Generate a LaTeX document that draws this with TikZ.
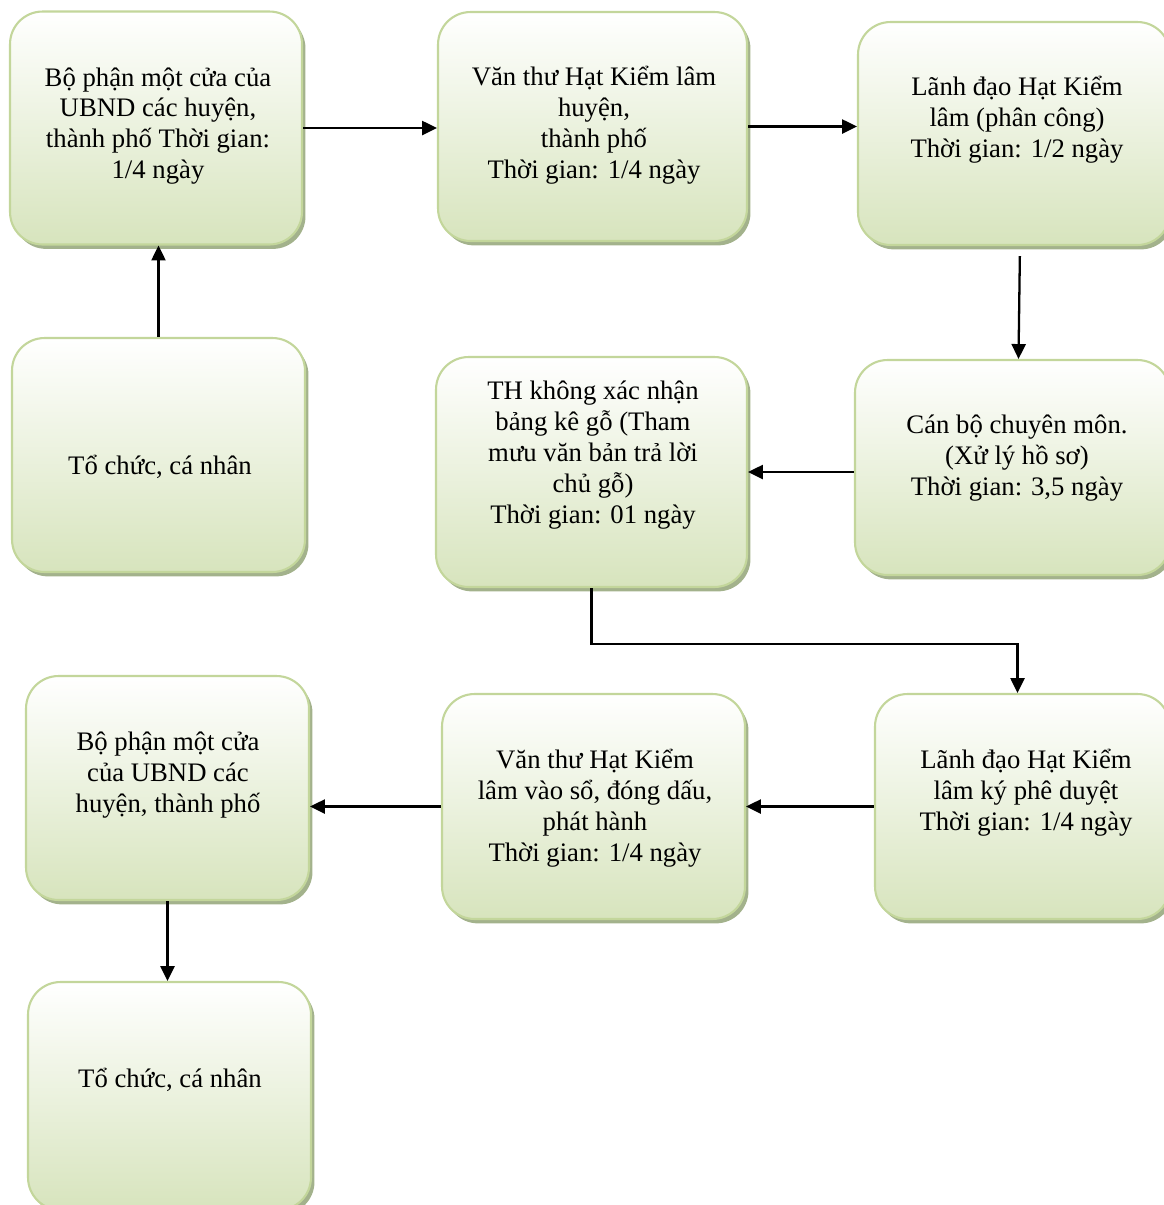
\documentclass[tikz,border=0pt]{standalone}
\usepackage{fontspec}
\setmainfont{Liberation Serif}
\usepackage{tikz}
\usetikzlibrary{arrows.meta,shadows,calc}
\definecolor{boxline}  {HTML}{C3D69B}
\definecolor{boxfill}  {HTML}{D7E4BD}
\definecolor{boxshadow}{HTML}{A3B28C}
\newcommand\boxfont{\fontsize{15.2}{17.6}\selectfont}

\begin{document}
\begin{tikzpicture}[
  box/.style ={draw=boxline,line width=1.2pt,rounded corners=0.65cm,
               top color=white,bottom color=boxfill,
               drop shadow={shadow xshift=2pt,shadow yshift=-2.5pt,
                            fill=boxshadow,opacity=1}},
  txt/.style ={align=center,font=\boxfont,inner sep=0pt},
  arr/.style ={-{Triangle[length=8.5pt,width=8pt]},line width=1.3pt},
  x=0.02cm, y=-0.02cm
]
\useasboundingbox (0,0) rectangle (1164,1205);

%% Boxes (pixel grid, y grows downwards)
\node[box,minimum width=5.84cm,minimum height=4.66cm] (b1)  at (156,128)    {};
\node[box,minimum width=6.18cm,minimum height=4.58cm] (b2)  at (592.5,126.5) {};
\node[box,minimum width=6.24cm,minimum height=4.46cm] (b3)  at (1014,133.5) {};

\node[box,minimum width=5.86cm,minimum height=4.68cm] (b4)  at (158.5,455)  {};
\node[box,minimum width=6.22cm,minimum height=4.60cm] (b5)  at (591.5,472)  {};
\node[box,minimum width=6.30cm,minimum height=4.30cm] (b6)  at (1012.5,467.5) {};

\node[box,minimum width=5.66cm,minimum height=4.48cm] (b7)  at (167.5,788)  {};
\node[box,minimum width=6.06cm,minimum height=4.50cm] (b8)  at (593.5,806.5) {};
\node[box,minimum width=5.90cm,minimum height=4.50cm] (b9)  at (1022.5,806.5) {};

\node[box,minimum width=5.66cm,minimum height=4.56cm] (b10) at (169.5,1096) {};

%% Texts
\node[txt] (t1)  at (158,126)  {Bộ phận một cửa của\\UBND các huyện,\\thành phố Thời gian:\\1/4 ngày};
\node[txt] (t2)  at (594,125)  {Văn thư Hạt Kiểm lâm\\huyện,\\thành phố\\Thời gian: 1/4 ngày};
\node[txt] (t3)  at (1017,120) {Lãnh đạo Hạt Kiểm\\lâm (phân công)\\Thời gian: 1/2 ngày};
\node[txt] (t4)  at (160,467)  {Tổ chức, cá nhân};
\node[txt] (t5)  at (593,455)  {TH không xác nhận\\bảng kê gỗ (Tham\\mưu văn bản trả lời\\chủ gỗ)\\Thời gian: 01 ngày};
\node[txt] (t6)  at (1017,458) {Cán bộ chuyên môn.\\(Xử lý hồ sơ)\\Thời gian: 3,5 ngày};
\node[txt] (t7)  at (168,775)  {Bộ phận một cửa\\của UBND các\\huyện, thành phố};
\node[txt] (t8)  at (595,808)  {Văn thư Hạt Kiểm\\lâm vào sổ, đóng dấu,\\phát hành\\Thời gian: 1/4 ngày};
\node[txt] (t9)  at (1026,793) {Lãnh đạo Hạt Kiểm\\lâm ký phê duyệt\\Thời gian: 1/4 ngày};
\node[txt] (t10) at (170,1080) {Tổ chức, cá nhân};

%% Arrows
\draw[arr] (b4.north) -- (b1.south -| b4.north);
\draw[arr] (b1.east) -- (b2.west |- b1.east);
\draw[arr] (b2.east) -- (b3.west |- b2.east);
\draw[arr,shorten <=0.2cm] ([xshift=0.12cm]b3.south) -- ([xshift=0.12cm]b6.north);
\draw[arr] (b6.west |- b5.east) -- (b5.east);
\draw[arr] (b5.south) -- (b5.south |- 0,644) -| ([xshift=-0.1cm]b9.north);
\draw[arr] (b9.west) -- (b8.east |- b9.west);
\draw[arr] (b8.west) -- (b7.east |- b8.west);
\draw[arr] (b7.south) -- (b10.north -| b7.south);

\end{tikzpicture}
\end{document}
